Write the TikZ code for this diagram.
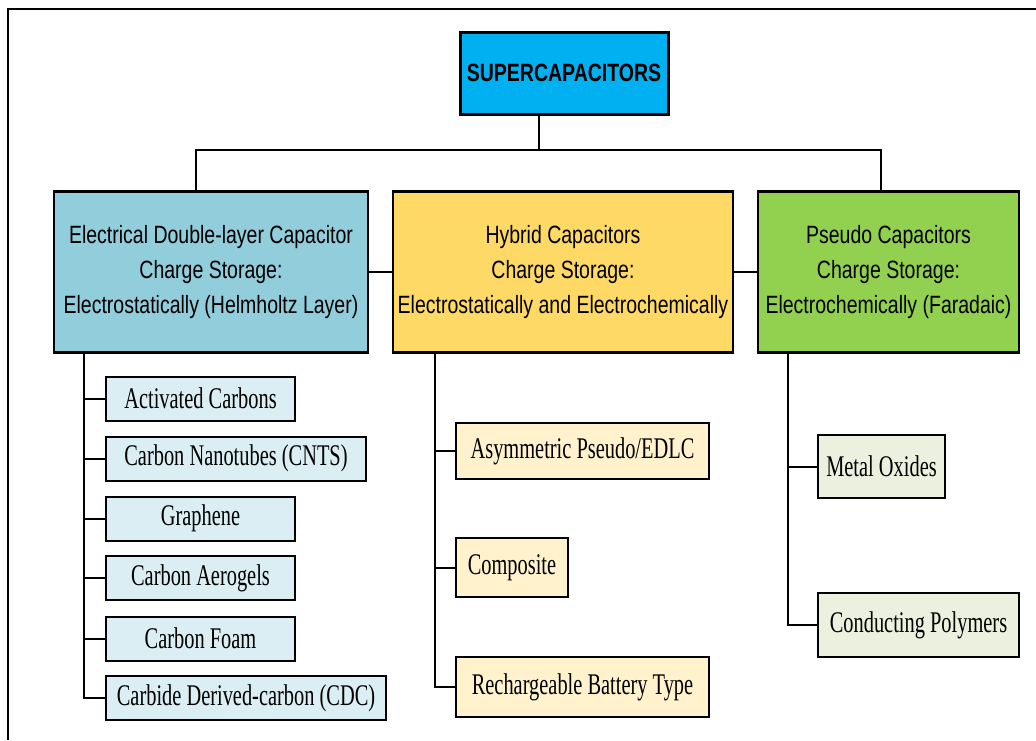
\documentclass[tikz,border=0pt]{standalone}
\usepackage{fontspec}
\usepackage{tikz}

\newfontfamily\headfont[FakeStretch=0.78]{Liberation Sans}
\newfontfamily\leaffont[FakeStretch=0.68]{Liberation Serif}

\definecolor{rootcyan}{HTML}{00B0F0}
\definecolor{edlcblue}{HTML}{92CDDC}
\definecolor{hybridyellow}{HTML}{FFD966}
\definecolor{pseudogreen}{HTML}{92D050}
\definecolor{edlcleaf}{HTML}{DAEEF3}
\definecolor{hybridleaf}{HTML}{FFF2CC}
\definecolor{pseudoleaf}{HTML}{EBF1DE}

\begin{document}
\begin{tikzpicture}[x=1pt, y=-1pt,
    every node/.style={draw, line width=2.5pt, align=center, inner sep=0pt},
    head/.style={minimum height=161pt, font=\headfont\fontsize{25}{35}\selectfont},
    leaf/.style={anchor=west, line width=2pt, minimum height=44pt,
      font=\leaffont\fontsize{30}{32}\selectfont},
    link/.style={line width=2pt}
    ]
    \useasboundingbox (0,0) rectangle (1036,740);
    \draw[line width=2pt] (7.5,740) -- (7.5,9) -- (1036,9);

    \node[fill=rootcyan, minimum width=208pt, minimum height=82pt, line width=3pt,
      font=\headfont\bfseries\fontsize{25}{30}\selectfont] (root) at (564,73) {SUPERCAPACITORS};

    \node[head, fill=edlcblue, minimum width=314pt] (edlc) at (211,272)
      {Electrical Double-layer Capacitor\\Charge Storage:\\Electrostatically (Helmholtz Layer)};
    \node[head, fill=hybridyellow, minimum width=340pt] (hybrid) at (563,272)
      {Hybrid Capacitors\\Charge Storage:\\Electrostatically and Electrochemically};
    \node[head, fill=pseudogreen, minimum width=261pt] (pseudo) at (888.5,272)
      {Pseudo Capacitors\\Charge Storage:\\Electrochemically (Faradaic)};

    % EDLC materials
    \node[leaf, fill=edlcleaf, minimum width=189pt] (e1) at (105,398.5) {Activated Carbons};
    \node[leaf, fill=edlcleaf, minimum width=260pt] (e2) at (105,458.5) {Carbon Nanotubes (CNTS)};
    \node[leaf, fill=edlcleaf, minimum width=189pt] (e3) at (105,518.5) {Graphene};
    \node[leaf, fill=edlcleaf, minimum width=189pt] (e4) at (105,578) {Carbon Aerogels};
    \node[leaf, fill=edlcleaf, minimum width=189pt] (e5) at (105,638.5) {Carbon Foam};
    \node[leaf, fill=edlcleaf, minimum width=280pt] (e6) at (105,698) {Carbide Derived-carbon (CDC)};

    % hybrid types
    \node[leaf, fill=hybridleaf, minimum width=253pt, minimum height=56pt] (h1) at (455,451) {Asymmetric Pseudo/EDLC};
    \node[leaf, fill=hybridleaf, minimum width=112pt, minimum height=59pt] (h2) at (455,567.5) {Composite};
    \node[leaf, fill=hybridleaf, minimum width=253pt, minimum height=60pt] (h3) at (455,687) {Rechargeable Battery Type};

    % pseudo materials
    \node[leaf, fill=pseudoleaf, minimum width=127pt, minimum height=63pt] (p1) at (817,466.5) {Metal Oxides};
    \node[leaf, fill=pseudoleaf, minimum width=201pt, minimum height=64pt] (p2) at (817,625) {Conducting Polymers};

    \draw[link] ([xshift=-25pt]root.south) -- ++(0,34) coordinate (bus);
    \draw[link] ([xshift=-15pt]edlc.north) |- (bus) -| ([xshift=-7.5pt]pseudo.north);
    \draw[link] (edlc.east) -- (hybrid.west);
    \draw[link] (hybrid.east) -- (pseudo.west);

    \coordinate (es) at ([xshift=-127pt]edlc.south);
    \draw[link] (es) |- (e6.west);
    \foreach \n in {e1,e2,e3,e4,e5}
      \draw[link] (es |- \n.west) -- (\n.west);

    \coordinate (hs) at ([xshift=-128pt]hybrid.south);
    \draw[link] (hs) |- (h3.west);
    \foreach \n in {h1,h2}
      \draw[link] (hs |- \n.west) -- (\n.west);

    \coordinate (ps) at ([xshift=-100.5pt]pseudo.south);
    \draw[link] (ps) |- (p2.west);
    \draw[link] (ps |- p1.west) -- (p1.west);
  \end{tikzpicture}
\end{document}
